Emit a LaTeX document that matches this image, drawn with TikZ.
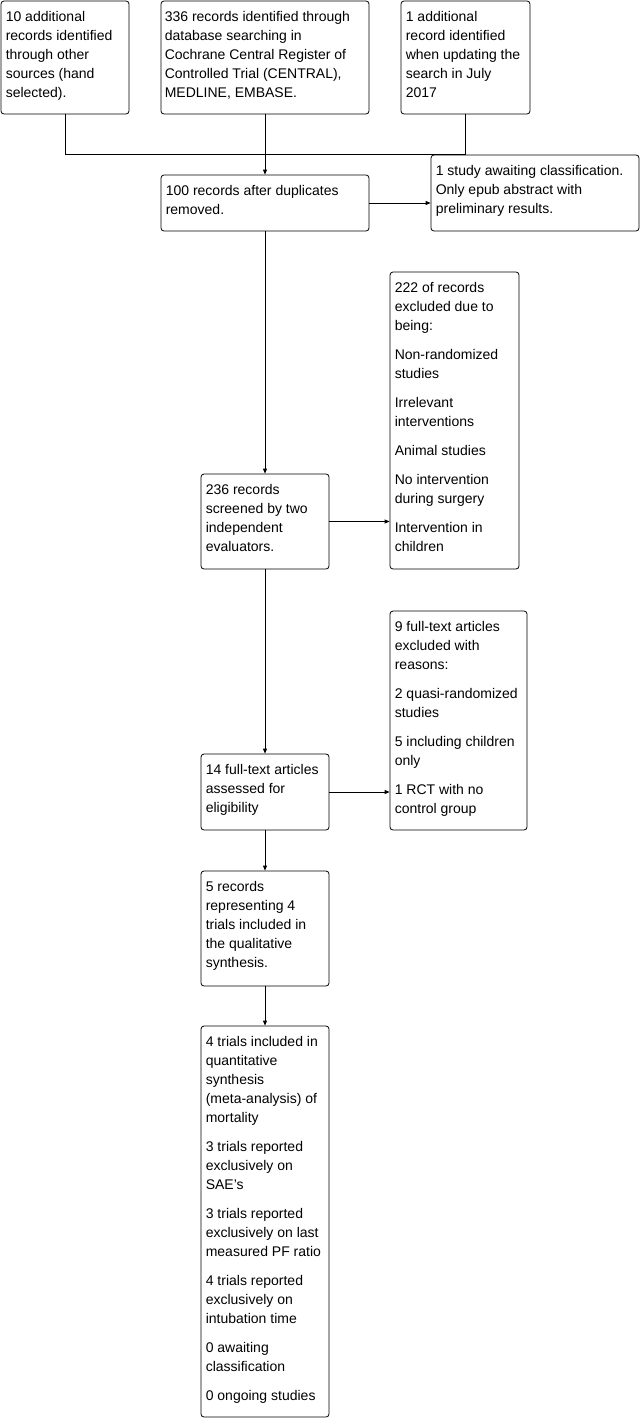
\documentclass[tikz,border=0pt]{standalone}
\usepackage{fontspec}
\setmainfont{Liberation Sans}
\usetikzlibrary{arrows.meta}
\begin{document}
\begin{tikzpicture}[x=1pt,y=-1pt,
  box/.style={draw=black,line width=0.8pt,rounded corners=3pt,inner sep=0pt,minimum width=#1},
  txt/.style={anchor=north west,inner sep=0pt,align=left,font=\fontsize{14}{19}\selectfont},
  arr/.style={line width=0.8pt,-{Triangle[length=5pt,width=4pt]}},
  ln/.style={line width=0.8pt}]
\useasboundingbox (0,0) rectangle (643,1419);
% boxes
\node[box=128pt,minimum height=113pt] (A) at (65,57.5) {};
\node[box=208pt,minimum height=113pt] (B) at (265,57.5) {};
\node[box=129pt,minimum height=113pt] (C) at (465.5,57.5) {};
\node[box=208pt,minimum height=56pt] (D) at (265,203) {};
\node[box=208pt,minimum height=76pt] (E) at (535,193) {};
\node[box=128pt,minimum height=95pt] (F) at (265,521.5) {};
\node[box=129pt,minimum height=297pt] (G) at (454.5,420.5) {};
\node[box=128pt,minimum height=76pt] (H) at (265,792) {};
\node[box=137pt,minimum height=219pt] (I) at (458.5,720.5) {};
\node[box=128pt,minimum height=115pt] (J) at (265,928.5) {};
\node[box=128pt,minimum height=391pt] (K) at (265,1221.5) {};
% texts
\node[txt] (tA) at ([shift={(5,7)}]A.north west) {\strut 10 additional\\records identified\\through other\\sources (hand\\selected).};
\node[txt] (tB) at ([shift={(4,7)}]B.north west) {\strut 336 records identified through\\database searching in\\Cochrane Central Register of\\Controlled Trial (CENTRAL),\\MEDLINE, EMBASE.};
\node[txt] (tC) at ([shift={(5,7)}]C.north west) {\strut 1 additional\\record identified\\when updating the\\search in July\\2017};
\node[txt] (tD) at ([shift={(5,7)}]D.north west) {\strut 100 records after duplicates\\removed.};
\node[txt] (tE) at ([shift={(5,7.5)}]E.north west) {\strut 1 study awaiting classification.\\Only epub abstract with\\preliminary results.};
\node[txt] (tF) at ([shift={(5,7)}]F.north west) {\strut 236 records\\screened by two\\independent\\evaluators.};
\node[txt] (tG) at ([shift={(5,7)}]G.north west) {\strut 222 of records\\excluded due to\\being:\\[10pt]Non-randomized\\studies\\[10pt]Irrelevant\\interventions\\[10pt]Animal studies\\[10pt]No intervention\\during surgery\\[10pt]Intervention in\\children};
\node[txt] (tH) at ([shift={(5,7)}]H.north west) {\strut 14 full-text articles\\assessed for\\eligibility};
\node[txt] (tI) at ([shift={(5,7)}]I.north west) {\strut 9 full-text articles\\excluded with\\reasons:\\[10pt]2 quasi-randomized\\studies\\[10pt]5 including children\\only\\[10pt]1 RCT with no\\control group};
\node[txt] (tJ) at ([shift={(5,7)}]J.north west) {\strut 5 records\\representing 4\\trials included in\\the qualitative\\synthesis.};
\node[txt] (tK) at ([shift={(5,7)}]K.north west) {\strut 4 trials included in\\quantitative\\synthesis\\(meta-analysis) of\\mortality\\[10pt]3 trials reported\\exclusively on\\SAE’s\\[10pt]3 trials reported\\exclusively on last\\measured PF ratio\\[10pt]4 trials reported\\exclusively on\\intubation time\\[10pt]0 awaiting\\classification\\[10pt]0 ongoing studies};
% connectors
\coordinate (jL) at (65,154);
\coordinate (jR) at (465.5,154);
\draw[ln] (A.south) -- (jL) -- (jR) -- (C.south);
\draw[arr] (B.south) -- (D.north);
\draw[arr] (D.east) -- (D.east -| E.west);
\draw[arr] (D.south) -- (F.north);
\draw[arr] (F.east) -- (F.east -| G.west);
\draw[arr] (F.south) -- (H.north);
\draw[arr] (H.east) -- (H.east -| I.west);
\draw[arr] (H.south) -- (J.north);
\draw[arr] (J.south) -- (K.north);
\end{tikzpicture}
\end{document}
